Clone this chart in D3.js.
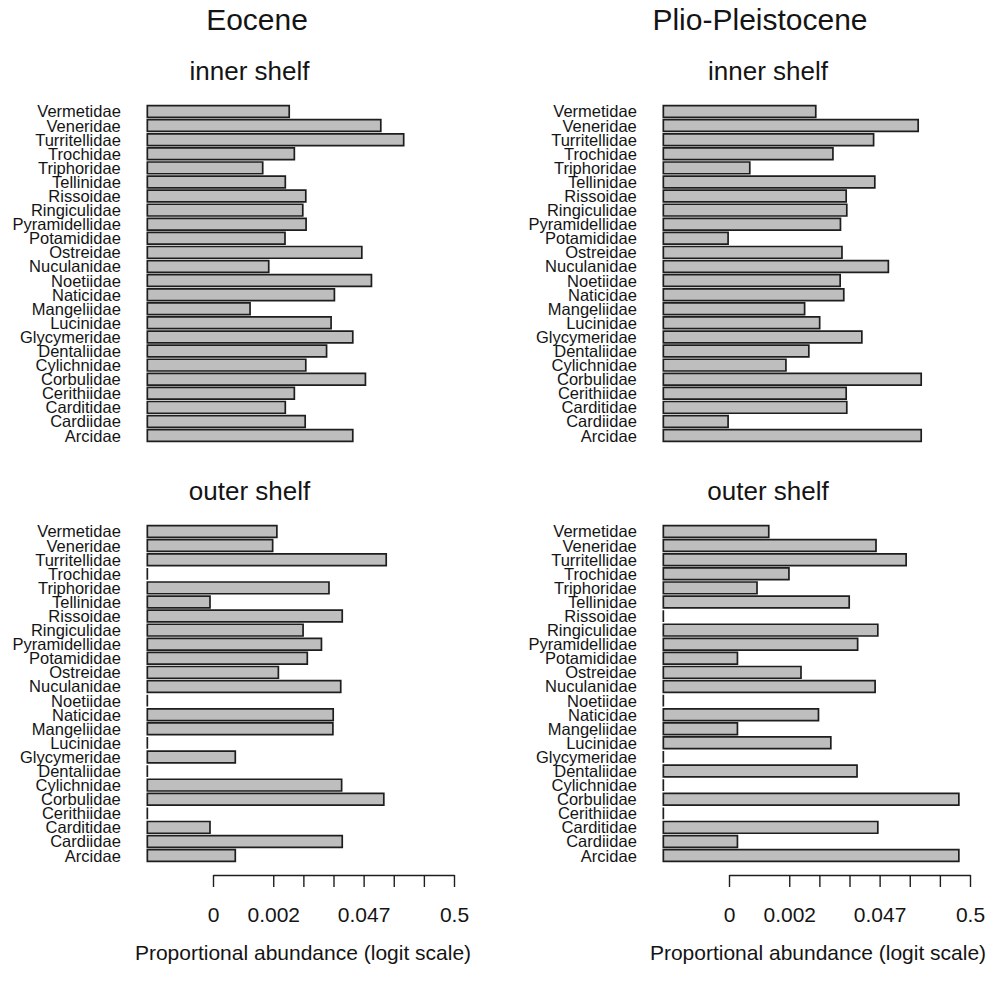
<!DOCTYPE html>
<html>
<head>
<meta charset="utf-8">
<script src="https://cdn.jsdelivr.net/npm/d3@7/dist/d3.min.js"></script>
<style>
  html, body { margin: 0; padding: 0; background: #fff; }
  svg { display: block; }
  text { font-family: "Liberation Sans", Arial, Helvetica, sans-serif; fill: #141414; }
</style>
</head>
<body>
<script>
// Families, listed top to bottom as they appear in each panel
const families = [
  "Vermetidae", "Veneridae", "Turritellidae", "Trochidae", "Triphoridae",
  "Tellinidae", "Rissoidae", "Ringiculidae", "Pyramidellidae", "Potamididae",
  "Ostreidae", "Nuculanidae", "Noetiidae", "Naticidae", "Mangeliidae",
  "Lucinidae", "Glycymeridae", "Dentaliidae", "Cylichnidae", "Corbulidae",
  "Cerithiidae", "Carditidae", "Cardiidae", "Arcidae"
];

// Proportional abundance on the logit scale, log(p / (1 - p)); null = family absent
const eoceneInner = [-5.47, -2.43, -1.67, -5.30, -6.35, -5.60, -4.92, -5.02, -4.91, -5.61,
  -3.06, -6.15, -2.74, -3.97, -6.77, -4.08, -3.36, -4.23, -4.92, -2.94, -5.30, -5.60, -4.94, -3.36];
const eoceneOuter = [-5.88, -6.02, -2.25, null, -4.15, -8.10, -3.71, -5.01, -4.40, -4.87,
  -5.83, -3.76, null, -4.01, -4.02, null, -7.26, null, -3.73, -2.33, null, -8.10, -3.71, -7.26];
const plioInner = [-5.12, -1.72, -3.20, -4.55, -7.31, -3.16, -4.11, -4.09, -4.30, -8.03,
  -4.25, -2.71, -4.31, -4.19, -5.49, -4.99, -3.59, -5.35, -6.11, -1.62, -4.11, -4.09, -8.03, -1.62];
const plioOuter = [-6.68, -3.12, -2.12, -6.01, -7.07, -4.01, null, -3.06, -3.73, -7.72,
  -5.61, -3.15, null, -5.03, -7.72, -4.62, null, -3.75, null, -0.37, null, -3.06, -7.72, -0.37];

// Axis: tick positions (logit units) and the ones that carry a label
const tickLogits = [-8, -6, -5, -4, -3, -2, -1, 0];
const labelledLogits = [-8, -6, -3, 0];
const logitFloor = -10.18;   // bar origin: where an absent family sits

const periods = ["Eocene", "Plio-Pleistocene"];
const shelves = ["inner shelf", "outer shelf"];
const axisTitle = "Proportional abundance (logit scale)";

const panels = [
  { col: 0, row: 0, values: eoceneInner },
  { col: 0, row: 1, values: eoceneOuter },
  { col: 1, row: 0, values: plioInner },
  { col: 1, row: 1, values: plioOuter }
];

const W = 991, H = 981;
const colShift = 516;      // horizontal offset between the two columns
const rowShift = 420;      // vertical offset between the two rows
const barTop = 104.45;     // top of first band (row 0)
const step = 14.09;
const ink = "#1e1e1e";

const svg = d3.select("body").append("svg")
  .attr("width", W).attr("height", H);

const invLogit = v => 1 / (1 + Math.exp(-v));

// Period titles
const periodCenters = [257, 760];
svg.selectAll("text.period").data(periods).join("text")
  .attr("class", "period")
  .attr("x", (d, i) => periodCenters[i])
  .attr("y", 30)
  .attr("text-anchor", "middle")
  .style("font-size", "30px")
  .text(d => d);

panels.forEach(p => {
  const dx = p.col * colShift;
  const dy = p.row * rowShift;

  const x = d3.scaleLinear().domain([-8, 0]).range([213 + dx, 454 + dx]);
  const y = d3.scaleBand()
    .domain(families)
    .range([barTop + dy, barTop + dy + step * families.length])
    .paddingInner(0.2 / 1.2)
    .paddingOuter(0.1 / 1.2);

  const g = svg.append("g");

  // Panel subtitle
  g.append("text")
    .attr("x", [249.5, 768][p.col])
    .attr("y", 79.5 + dy)
    .attr("text-anchor", "middle")
    .style("font-size", "26px")
    .text(shelves[p.row]);

  const x0 = x(logitFloor);
  const rows = families.map((f, i) => ({ family: f, value: p.values[i] }));

  // Bars as closed paths so zero-length ones still show as a stroke
  g.selectAll("path.bar").data(rows).join("path")
    .attr("class", "bar")
    .attr("d", d => {
      const x1 = d.value == null ? x0 : x(d.value);
      const yt = y(d.family), yb = yt + y.bandwidth();
      return `M${x0},${yt}H${x1}V${yb}H${x0}Z`;
    })
    .attr("fill", "#bebebe")
    .attr("stroke", ink)
    .attr("stroke-width", 1.7);

  // Family names
  g.selectAll("text.fam").data(rows).join("text")
    .attr("class", "fam")
    .attr("x", x0 - 26.5)
    .attr("y", d => y(d.family) + y.bandwidth() / 2 + 6)
    .attr("text-anchor", "end")
    .style("font-size", "16.5px")
    .text(d => d.family);

  // Bottom axis on the lower row only
  if (p.row === 1) {
    const axisY = 875;
    const axis = d3.axisBottom(x)
      .tickValues(tickLogits)
      .tickSizeInner(12)
      .tickSizeOuter(0)
      .tickPadding(0)
      .tickFormat(v => labelledLogits.includes(v) ? String(+invLogit(v).toFixed(3)) : "");
    const ga = g.append("g")
      .attr("transform", `translate(0,${axisY})`)
      .call(axis);
    ga.select(".domain").attr("stroke", ink).attr("stroke-width", 1.4);
    ga.selectAll(".tick line").attr("stroke", ink).attr("stroke-width", 1.4);
    ga.selectAll(".tick text")
      .attr("y", 47)
      .attr("dy", null)
      .style("font-size", "21px")
      .style("fill", "#141414")
      .style("font-family", "'Liberation Sans', Arial, sans-serif");

    g.append("text")
      .attr("x", [303, 818][p.col])
      .attr("y", 960)
      .attr("text-anchor", "middle")
      .style("font-size", "21px")
      .text(axisTitle);
  }
});
</script>
</body>
</html>
